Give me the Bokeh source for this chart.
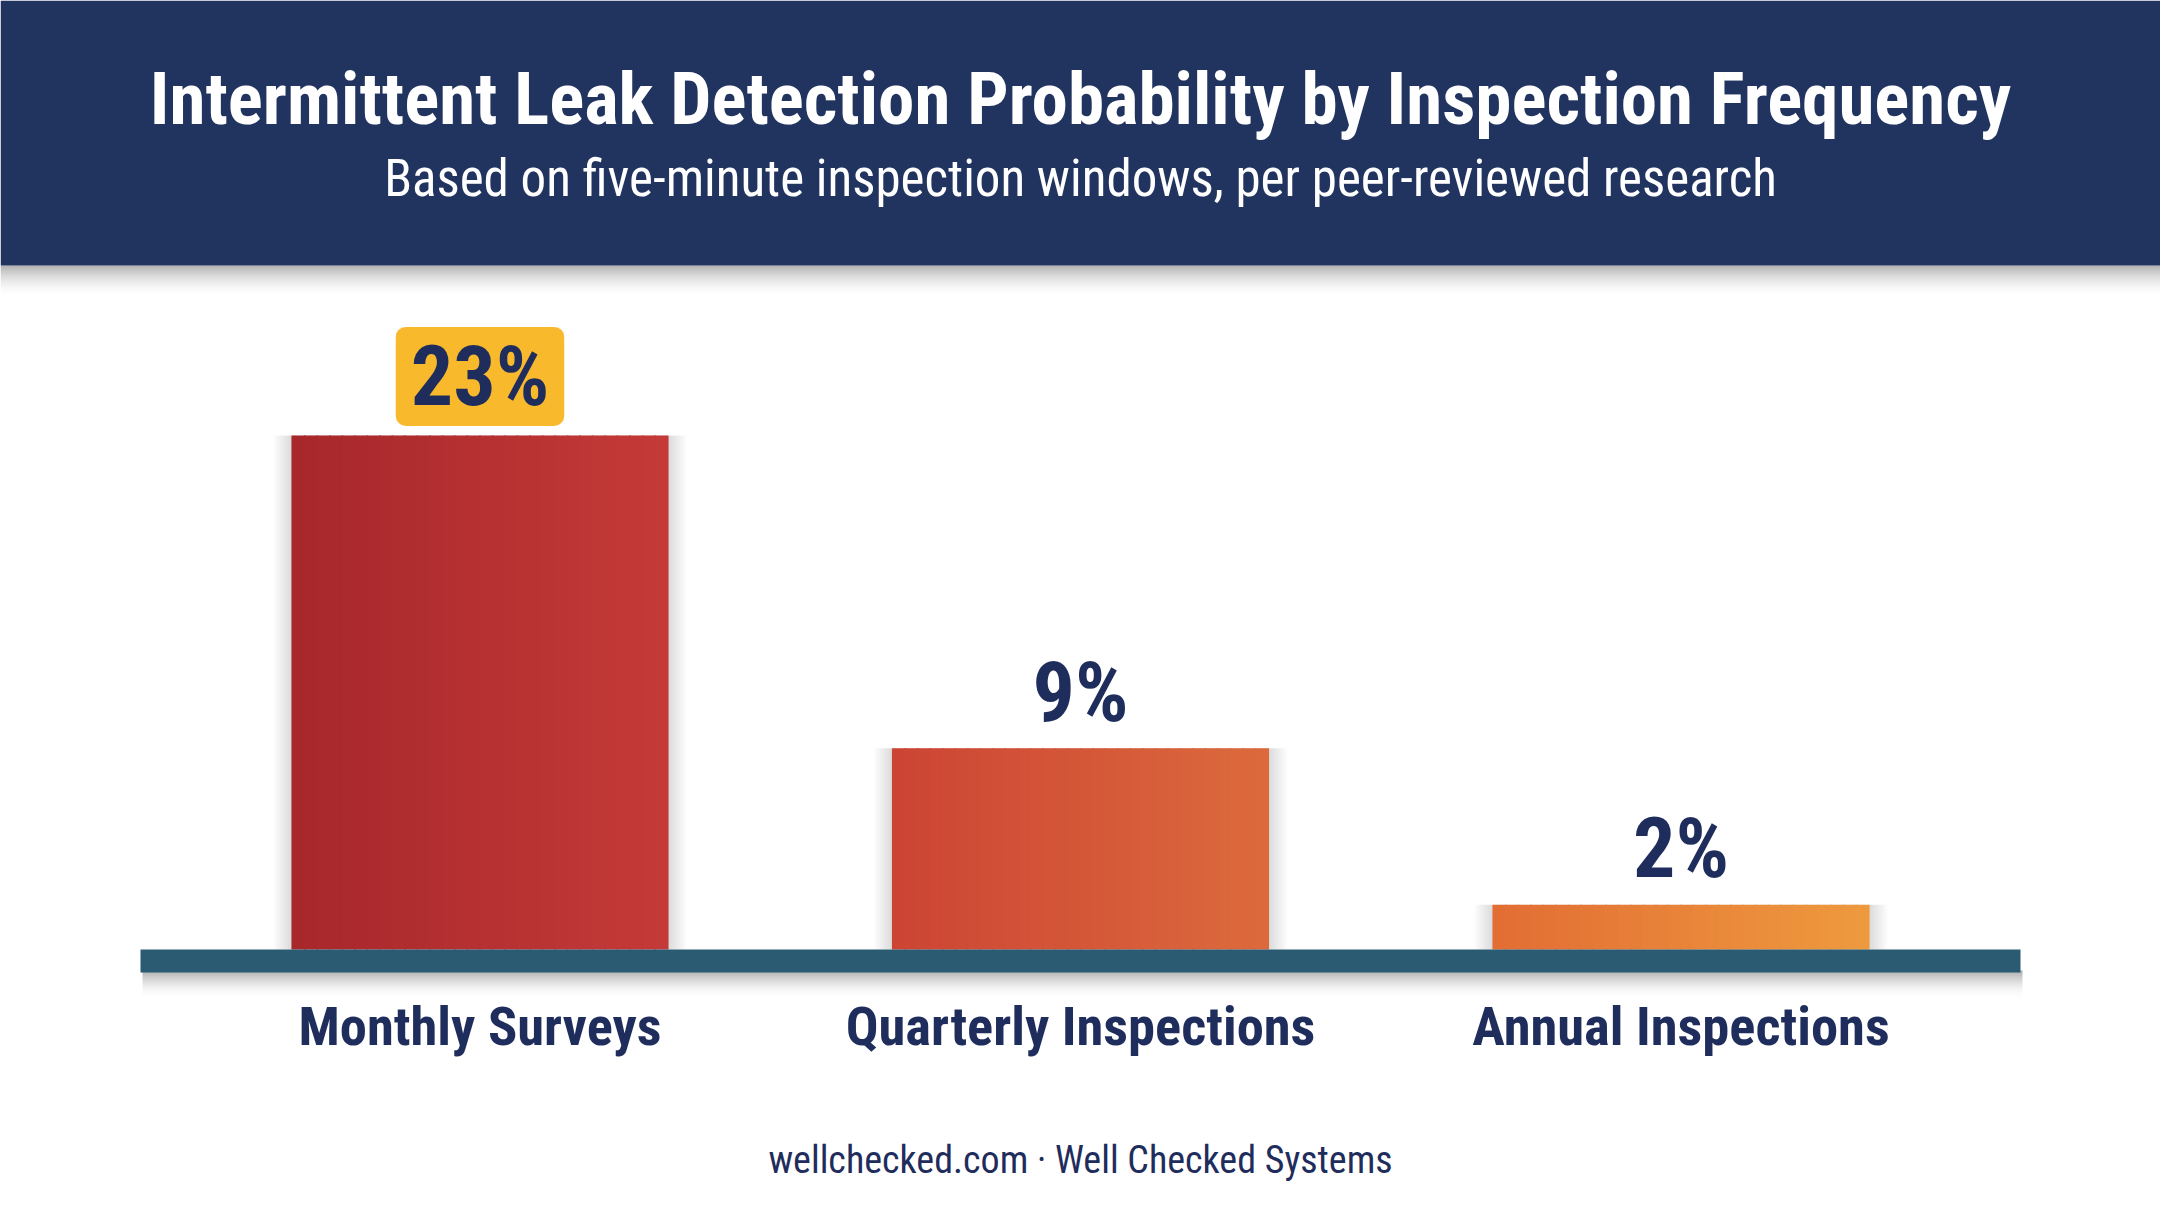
from bokeh.plotting import figure
from bokeh.models import ColumnDataSource, Range1d, Label, LinearScale
from bokeh.transform import dodge
from bokeh.core.properties import value
from bokeh.embed import file_html
from bokeh.resources import INLINE

# chart data
categories = ["Monthly Surveys", "Quarterly Inspections", "Annual Inspections"]
positions = [0, 1, 2]
detection_pct = [23, 9, 2]
pct_labels = ["23%", "9%", "2%"]

title_text = "Intermittent Leak Detection Probability by Inspection Frequency"
subtitle_text = "Based on five-minute inspection windows, per peer-reviewed research"
footer_text = "wellchecked.com \u00b7 Well Checked Systems"

# styling
W, H = 2160, 1206
NAVY = "#21335f"
INK = "#1f2d5c"
BAND = "#2b5a73"
GOLD = "#f8b92d"
FONT = "Roboto Condensed"
left_colors = ["#a6272b", "#cc4434", "#e26d34"]
right_colors = ["#c53a38", "#dc6a3c", "#ee9a3e"]
BAR_W = 0.625
SLICES = 30


def mix(c1, c2, t):
    a = [int(c1[i:i + 2], 16) for i in (1, 3, 5)]
    b = [int(c2[i:i + 2], 16) for i in (1, 3, 5)]
    return "#%02x%02x%02x" % tuple(round(a[i] + (b[i] - a[i]) * t) for i in range(3))


p = figure(width=W, height=H,
           x_range=Range1d(-0.7985, 2.7985), y_range=Range1d(-11.50, 42.46),
           x_axis_location=None, y_axis_location=None,
           output_backend="svg", toolbar_location=None, min_border=0)
p.grid.visible = False
p.outline_line_color = None
p.background_fill_color = "white"
p.border_fill_color = "white"
p.extra_x_ranges = {"px": Range1d(0, W)}
p.extra_y_ranges = {"px": Range1d(H, 0)}
p.extra_x_scales = {"px": LinearScale()}
p.extra_y_scales = {"px": LinearScale()}

px = dict(x_range_name="px", y_range_name="px")

# header band and its shadow
for i in range(16):
    p.quad(left=[0], right=[W], top=[265 + i * 2], bottom=[265 + (i + 1) * 2],
           fill_color="black", fill_alpha=0.3 * (1 - i / 16) ** 2,
           line_color=None, **px)
p.quad(left=[0], right=[W], top=[0], bottom=[265], fill_color=NAVY,
       line_color=None, **px)

p.text(x=[W / 2], y=[98], text=[title_text], text_font=value(FONT),
       text_font_style="bold", text_font_size="73px", text_color="white",
       text_align="center", text_baseline="alphabetic", **px)
p.text(x=[W / 2], y=[178], text=[subtitle_text], text_font=value(FONT),
       text_font_size="51px", text_color="white",
       text_align="center", text_baseline="alphabetic", **px)

source = ColumnDataSource(data=dict(pos=positions, cat=categories,
                                    val=detection_pct, label=pct_labels))

# soft shadow round the bars
for j in range(1, 10):
    p.vbar(x="pos", top="val", bottom=0, width=BAR_W + j * 0.007,
           source=source, fill_color="black", fill_alpha=0.014,
           line_color=None)

# bars with a left-to-right gradient, drawn as thin slices
step = BAR_W / SLICES
for k in range(SLICES):
    t = (k + 0.5) / SLICES
    cols = [mix(l, r, t) for l, r in zip(left_colors, right_colors)]
    src = ColumnDataSource(data=dict(pos=positions, val=detection_pct,
                                     color=cols))
    p.vbar(x=dodge("pos", -BAR_W / 2 + (k + 0.5) * step),
           top="val", bottom=0, width=step + 0.003, source=src,
           fill_color="color", line_color=None)

# baseline band with shadow
for i in range(14):
    p.quad(left=[142], right=[2022], top=[970 + i * 2],
           bottom=[970 + (i + 1) * 2], fill_color="black",
           fill_alpha=0.32 * (1 - i / 14) ** 2, line_color=None, **px)
p.quad(left=[140], right=[2020], top=[949], bottom=[972], fill_color=BAND,
       line_color=None, **px)

# value labels
plain = ColumnDataSource(data=dict(pos=positions[1:], val=detection_pct[1:],
                                   label=pct_labels[1:]))
p.text(x="pos", y="val", text="label", source=plain, y_offset=-56,
       text_font=value(FONT), text_font_style="bold", text_font_size="84px",
       text_color=INK, text_align="center", text_baseline="alphabetic")

p.add_layout(Label(x=positions[0], y=detection_pct[0], text=pct_labels[0],
                   y_offset=59, text_font=FONT, text_font_style="bold",
                   text_font_size="84px", text_color=INK,
                   text_align="center", text_baseline="middle",
                   background_fill_color=GOLD, padding=(15, 0),
                   border_radius=10))

# category labels under the band
p.text(x="pos", y=0, text="cat", source=source, y_offset=77,
       text_font=value(FONT), text_font_style="bold", text_font_size="54.5px",
       text_color=INK, text_align="center", text_baseline="alphabetic")

p.text(x=[W / 2], y=[1159], text=[footer_text], text_font=value(FONT),
       text_font_size="38px", text_color=INK, text_align="center",
       text_baseline="alphabetic", **px)

open("out.html", "w").write(file_html(p, INLINE))
